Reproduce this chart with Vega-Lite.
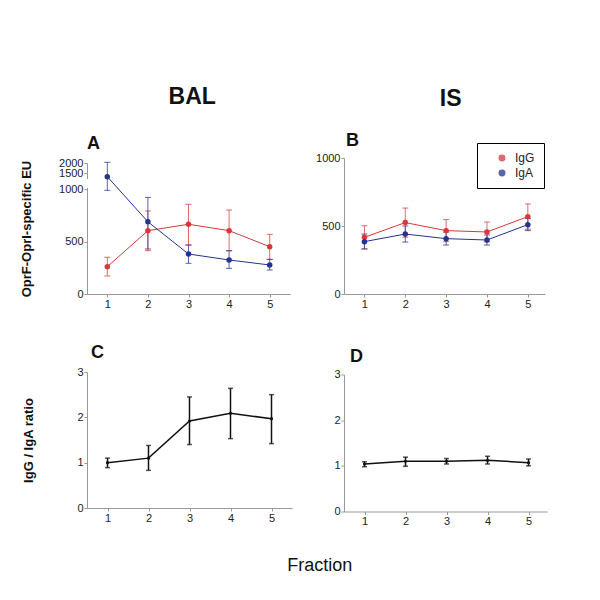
{
  "$schema": "https://vega.github.io/schema/vega-lite/v6.json",
  "background": "white",
  "padding": {"left": 20, "top": 86, "right": 5, "bottom": 5},
  "config": {
    "font": "Liberation Sans",
    "view": {"stroke": null},
    "axis": {"grid": false, "domainColor": "#999", "tickColor": "#999", "tickSize": 3, "labelFontSize": 11, "labelColor": "#222", "labelPadding": 1, "titleFontSize": 13, "titleFontWeight": "bold", "titleColor": "#111", "labelFont": "Liberation Sans", "titleFont": "Liberation Sans", "format": "d"},
    "title": {"color": "#111", "font": "Liberation Sans"},
    "legend": {"labelFont": "Liberation Sans"}
  },
  "datasets": {
    "eu": [
      {"panel": "BAL", "isotype": "IgG", "fraction": 1, "mean": 261, "lo": 172, "hi": 351},
      {"panel": "BAL", "isotype": "IgG", "fraction": 2, "mean": 605, "lo": 414, "hi": 793},
      {"panel": "BAL", "isotype": "IgG", "fraction": 3, "mean": 666, "lo": 468, "hi": 857},
      {"panel": "BAL", "isotype": "IgG", "fraction": 4, "mean": 605, "lo": 412, "hi": 802},
      {"panel": "BAL", "isotype": "IgG", "fraction": 5, "mean": 452, "lo": 331, "hi": 570},
      {"panel": "BAL", "isotype": "IgA", "fraction": 1, "mean": 1345, "lo": 990, "hi": 2033},
      {"panel": "BAL", "isotype": "IgA", "fraction": 2, "mean": 690, "lo": 430, "hi": 923},
      {"panel": "BAL", "isotype": "IgA", "fraction": 3, "mean": 382, "lo": 293, "hi": 468},
      {"panel": "BAL", "isotype": "IgA", "fraction": 4, "mean": 325, "lo": 245, "hi": 414},
      {"panel": "BAL", "isotype": "IgA", "fraction": 5, "mean": 277, "lo": 229, "hi": 331},
      {"panel": "IS", "isotype": "IgG", "fraction": 1, "mean": 417, "lo": 332, "hi": 502},
      {"panel": "IS", "isotype": "IgG", "fraction": 2, "mean": 525, "lo": 418, "hi": 632},
      {"panel": "IS", "isotype": "IgG", "fraction": 3, "mean": 466, "lo": 385, "hi": 547},
      {"panel": "IS", "isotype": "IgG", "fraction": 4, "mean": 456, "lo": 383, "hi": 529},
      {"panel": "IS", "isotype": "IgG", "fraction": 5, "mean": 569, "lo": 476, "hi": 662},
      {"panel": "IS", "isotype": "IgA", "fraction": 1, "mean": 385, "lo": 331, "hi": 441},
      {"panel": "IS", "isotype": "IgA", "fraction": 2, "mean": 441, "lo": 382, "hi": 500},
      {"panel": "IS", "isotype": "IgA", "fraction": 3, "mean": 407, "lo": 360, "hi": 455},
      {"panel": "IS", "isotype": "IgA", "fraction": 4, "mean": 397, "lo": 360, "hi": 434},
      {"panel": "IS", "isotype": "IgA", "fraction": 5, "mean": 510, "lo": 466, "hi": 555}
    ],
    "ratio": [
      {"panel": "BAL", "fraction": 1, "mean": 1.00, "lo": 0.89, "hi": 1.10},
      {"panel": "BAL", "fraction": 2, "mean": 1.10, "lo": 0.83, "hi": 1.38},
      {"panel": "BAL", "fraction": 3, "mean": 1.92, "lo": 1.40, "hi": 2.45},
      {"panel": "BAL", "fraction": 4, "mean": 2.09, "lo": 1.53, "hi": 2.64},
      {"panel": "BAL", "fraction": 5, "mean": 1.97, "lo": 1.42, "hi": 2.50},
      {"panel": "IS", "fraction": 1, "mean": 1.04, "lo": 0.98, "hi": 1.09},
      {"panel": "IS", "fraction": 2, "mean": 1.10, "lo": 0.99, "hi": 1.19},
      {"panel": "IS", "fraction": 3, "mean": 1.10, "lo": 1.04, "hi": 1.16},
      {"panel": "IS", "fraction": 4, "mean": 1.12, "lo": 1.04, "hi": 1.21},
      {"panel": "IS", "fraction": 5, "mean": 1.07, "lo": 1.00, "hi": 1.15}
    ]
  },
  "title": {"text": "Fraction", "orient": "bottom", "anchor": "middle", "fontSize": 18, "fontWeight": "normal", "dx": 36, "offset": 30},
  "spacing": 20,
  "resolve": {"legend": {"color": "independent"}},
  "hconcat": [
    {
      "title": {"text": "BAL", "anchor": "middle", "fontSize": 23, "fontWeight": "bold", "dx": 36, "offset": 26},
      "spacing": 35,
      "resolve": {"legend": {"color": "independent"}},
      "vconcat": [
        {
          "width": 203, "height": 136,
          "title": {"text": "A", "anchor": "start", "frame": "group", "fontSize": 18, "fontWeight": "bold", "offset": 4},
          "data": {"name": "eu"},
          "transform": [{"filter": "datum.panel === 'BAL'"}],
          "layer": [
            {
              "mark": {"type": "rule", "color": "white", "strokeWidth": 4},
              "encoding": {
                "x": {"datum": 0.5, "type": "quantitative", "scale": {"domain": [0.5, 5.5], "nice": false, "zero": false}, "axis": {"values": [1, 2, 3, 4, 5], "title": null}},
                "y": {"datum": 1035, "type": "quantitative", "title": "OprF-OprI-specific EU", "scale": {"domain": [0, 1000, 1250, 2000], "range": [136, 31.3, 20.7, 5], "nice": false, "zero": false}, "axis": {"values": [0, 500, 1000, 1500, 2000], "titlePadding": 25, "labelOverlap": false}},
                "y2": {"datum": 1235}
              }
            },
            {
              "mark": {"type": "errorbar", "ticks": {"size": 6}, "thickness": 1, "opacity": 0.75},
              "encoding": {
                "x": {"field": "fraction", "type": "quantitative", "title": null, "axis": {"values": [1, 2, 3, 4, 5]}},
                "y": {"field": "lo", "type": "quantitative", "title": "OprF-OprI-specific EU", "axis": {"values": [0, 500, 1000, 1500, 2000], "titlePadding": 25, "labelOverlap": false}},
                "y2": {"field": "hi"},
                "color": {"field": "isotype", "type": "nominal", "scale": {"domain": ["IgG", "IgA"], "range": ["#d8383b", "#24338c"]}, "legend": null}
              }
            },
            {
              "mark": {"type": "line", "strokeWidth": 1},
              "encoding": {
                "x": {"field": "fraction", "type": "quantitative", "title": null, "axis": {"values": [1, 2, 3, 4, 5]}},
                "y": {"field": "mean", "type": "quantitative", "title": "OprF-OprI-specific EU", "axis": {"values": [0, 500, 1000, 1500, 2000], "titlePadding": 25, "labelOverlap": false}},
                "color": {"field": "isotype", "type": "nominal", "legend": null}
              }
            },
            {
              "mark": {"type": "circle", "size": 30, "opacity": 1},
              "encoding": {
                "x": {"field": "fraction", "type": "quantitative", "title": null, "axis": {"values": [1, 2, 3, 4, 5]}},
                "y": {"field": "mean", "type": "quantitative", "title": "OprF-OprI-specific EU", "axis": {"values": [0, 500, 1000, 1500, 2000], "titlePadding": 25, "labelOverlap": false}},
                "color": {"field": "isotype", "type": "nominal", "legend": null}
              }
            }
          ]
        },
        {
          "width": 205, "height": 136,
          "title": {"text": "C", "anchor": "start", "frame": "group", "fontSize": 18, "fontWeight": "bold", "offset": 4, "dx": 4},
          "data": {"name": "ratio"},
          "transform": [{"filter": "datum.panel === 'BAL'"}],
          "encoding": {
            "x": {"field": "fraction", "type": "quantitative", "title": null, "scale": {"domain": [0.5, 5.5], "nice": false, "zero": false}, "axis": {"values": [1, 2, 3, 4, 5]}}
          },
          "layer": [
            {
              "mark": {"type": "errorbar", "ticks": {"size": 5}, "thickness": 1.5, "color": "#111"},
              "encoding": {
                "y": {"field": "lo", "type": "quantitative", "title": "IgG / IgA ratio", "scale": {"domain": [0, 3], "nice": false}, "axis": {"values": [0, 1, 2, 3], "titlePadding": 25, "minExtent": 26.7, "maxExtent": 26.7}},
                "y2": {"field": "hi"}
              }
            },
            {
              "mark": {"type": "line", "strokeWidth": 1.5, "color": "#111"},
              "encoding": {"y": {"field": "mean", "type": "quantitative", "title": "IgG / IgA ratio"}}
            },
            {
              "mark": {"type": "circle", "size": 10, "color": "#111", "opacity": 1},
              "encoding": {"y": {"field": "mean", "type": "quantitative", "title": "IgG / IgA ratio"}}
            }
          ]
        }
      ]
    },
    {
      "title": {"text": "IS", "anchor": "middle", "fontSize": 23, "fontWeight": "bold", "dx": 21, "offset": 21},
      "spacing": 38.5,
      "resolve": {"legend": {"color": "independent"}},
      "vconcat": [
        {
          "width": 201, "height": 136,
          "title": {"text": "B", "anchor": "start", "frame": "group", "fontSize": 18, "fontWeight": "bold", "offset": -7, "dx": 2},
          "data": {"name": "eu"},
          "transform": [{"filter": "datum.panel === 'IS'"}],
          "encoding": {
            "x": {"field": "fraction", "type": "quantitative", "title": null, "scale": {"domain": [0.5, 5.42], "nice": false, "zero": false}, "axis": {"values": [1, 2, 3, 4, 5]}}
          },
          "layer": [
            {
              "mark": {"type": "errorbar", "ticks": {"size": 6}, "thickness": 1, "opacity": 0.75},
              "encoding": {
                "y": {"field": "lo", "type": "quantitative", "title": null, "scale": {"domain": [0, 1000], "nice": false}, "axis": {"values": [0, 500, 1000]}},
                "y2": {"field": "hi"},
                "color": {"field": "isotype", "type": "nominal", "scale": {"domain": ["IgG", "IgA"], "range": ["#d8383b", "#24338c"]}, "legend": {"orient": "none", "legendX": 133, "legendY": -15, "title": null, "strokeColor": "#000", "padding": 9, "symbolOffset": 10, "labelOffset": 7, "rowPadding": 3, "labelFontSize": 12, "labelColor": "#222", "symbolType": "circle", "symbolSize": 30}}
              }
            },
            {
              "mark": {"type": "line", "strokeWidth": 1},
              "encoding": {
                "y": {"field": "mean", "type": "quantitative", "title": null},
                "color": {"field": "isotype", "type": "nominal"}
              }
            },
            {
              "mark": {"type": "circle", "size": 30, "opacity": 1},
              "encoding": {
                "y": {"field": "mean", "type": "quantitative", "title": null},
                "color": {"field": "isotype", "type": "nominal"}
              }
            }
          ]
        },
        {
          "width": 203, "height": 137,
          "title": {"text": "D", "anchor": "start", "frame": "group", "fontSize": 18, "fontWeight": "bold", "offset": 3, "dx": 6},
          "data": {"name": "ratio"},
          "transform": [{"filter": "datum.panel === 'IS'"}],
          "encoding": {
            "x": {"field": "fraction", "type": "quantitative", "title": null, "scale": {"domain": [0.5, 5.45], "nice": false, "zero": false}, "axis": {"values": [1, 2, 3, 4, 5]}}
          },
          "layer": [
            {
              "mark": {"type": "errorbar", "ticks": {"size": 5}, "thickness": 1.5, "color": "#111"},
              "encoding": {
                "y": {"field": "lo", "type": "quantitative", "title": null, "scale": {"domain": [0, 3], "nice": false}, "axis": {"values": [0, 1, 2, 3], "minExtent": 31.6}},
                "y2": {"field": "hi"}
              }
            },
            {
              "mark": {"type": "line", "strokeWidth": 1.5, "color": "#111"},
              "encoding": {"y": {"field": "mean", "type": "quantitative", "title": null}}
            },
            {
              "mark": {"type": "circle", "size": 10, "color": "#111", "opacity": 1},
              "encoding": {"y": {"field": "mean", "type": "quantitative", "title": null}}
            }
          ]
        }
      ]
    }
  ]
}
